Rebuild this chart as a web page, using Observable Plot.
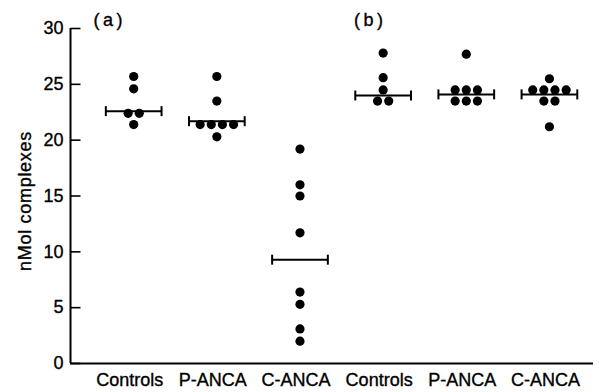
<!DOCTYPE html>
<html><head><meta charset="utf-8">
<script src="https://cdn.jsdelivr.net/npm/d3@7"></script>
<script src="https://cdn.jsdelivr.net/npm/@observablehq/plot@0.6"></script>
<style>
body{margin:0;background:#fff}
#chart svg{font-family:"Liberation Sans",Arial,sans-serif;background:#fff;color:#000}
#chart svg text{stroke:#000;stroke-width:0.35px}
#chart svg .panel-label text{letter-spacing:3.5px}
#chart svg .y-label text{letter-spacing:0.7px}
</style>
</head><body><div id="chart"></div>
<script>
// ---- data ----
const categories = ["Controls", "P-ANCA", "C-ANCA", "Controls", "P-ANCA", "C-ANCA"];
const panels = ["(a)", "(b)"];
const aControls = [25.7, 24.6, 22.4, 22.4, 21.4];
const aPANCA    = [25.7, 23.5, 21.4, 21.4, 21.4, 21.4, 20.3];
const aCANCA    = [19.2, 16.0, 15.0, 11.7, 6.4, 5.3, 3.1, 2.0];
const bControls = [27.8, 25.6, 24.5, 23.5, 23.5];
const bPANCA    = [27.7, 24.5, 24.5, 24.5, 23.5, 23.5, 23.5];
const bCANCA    = [25.5, 24.5, 24.5, 24.5, 24.5, 23.5, 23.5, 21.2];
const means     = [22.6, 21.7, 9.3, 24.0, 24.1, 24.1];
const yTicks    = [0, 5, 10, 15, 20, 25, 30];
const yLabel    = "nMol complexes";

// ---- build tables ----
const groups = [aControls, aPANCA, aCANCA, bControls, bPANCA, bCANCA];
const SLOT = 0.134;   // horizontal spacing of tied dots (x units)
const HALF = 0.335;   // half width of the mean bar (x units)
const dots = [];
groups.forEach((vals, gi) => {
  const byVal = d3.group(vals, v => v);
  for (const [v, arr] of byVal) {
    arr.forEach((_, j) => dots.push({group: gi, value: v, slot: j - (arr.length - 1) / 2}));
  }
});
const meanRows = means.map((m, i) => ({group: i, value: m}));
const capRows = meanRows.flatMap(d => [{...d, side: -1}, {...d, side: 1}]);
const xDomain = [-0.76, 5.53];

const vLine = {draw(ctx) { ctx.moveTo(0, -5); ctx.lineTo(0, 5); }};
const hTick = {draw(ctx) { ctx.moveTo(0, 0); ctx.lineTo(10, 0); }};

const chart = Plot.plot({
  width: 599,
  height: 392,
  marginLeft: 70,
  marginRight: 6,
  marginTop: 28,
  marginBottom: 29,
  style: {fontSize: "18px", fontFamily: "'Liberation Sans', Arial, sans-serif", background: "#fff", color: "#000"},
  x: {domain: xDomain, axis: null},
  y: {domain: [0, 30], axis: null},
  marks: [
    Plot.axisY({ticks: yTicks, tickSize: 0, tickPadding: 7, fontSize: 18, label: null}),
    Plot.dot(yTicks, {y: d => d, frameAnchor: "left", symbol: hTick, stroke: "#000", fill: "none", strokeWidth: 1.6}),
    Plot.axisX({ticks: d3.range(categories.length), tickFormat: i => categories[i], tickSize: 0, tickPadding: 10, fontSize: 18, dx: -4, label: null}),
    Plot.ruleX([xDomain[0]], {y1: 0, y2: 30, strokeWidth: 2, stroke: "#000"}),
    Plot.ruleY([0], {strokeWidth: 2, stroke: "#000"}),
    Plot.text([yLabel], {frameAnchor: "left", textAnchor: "middle", text: d => d, rotate: -90, dx: -45, dy: 5, fontSize: 18, className: "y-label"}),
    Plot.text([panels[0]], {x: 0, frameAnchor: "top", dx: -24, dy: -8, text: d => d, fontSize: 18, lineAnchor: "middle", className: "panel-label"}),
    Plot.text([panels[1]], {x: 3, frameAnchor: "top", dx: -13, dy: -8, text: d => d, fontSize: 18, lineAnchor: "middle", className: "panel-label"}),
    Plot.ruleY(meanRows, {y: "value", x1: d => d.group - HALF, x2: d => d.group + HALF, stroke: "#000", strokeWidth: 2}),
    Plot.dot(capRows, {x: d => d.group + d.side * HALF, y: "value", symbol: vLine, stroke: "#000", fill: "none", strokeWidth: 2}),
    Plot.dot(dots, {x: d => d.group + d.slot * SLOT, y: "value", r: 4.6, fill: "#000", stroke: "none"})
  ]
});
document.getElementById("chart").appendChild(chart);
</script>
</body></html>
